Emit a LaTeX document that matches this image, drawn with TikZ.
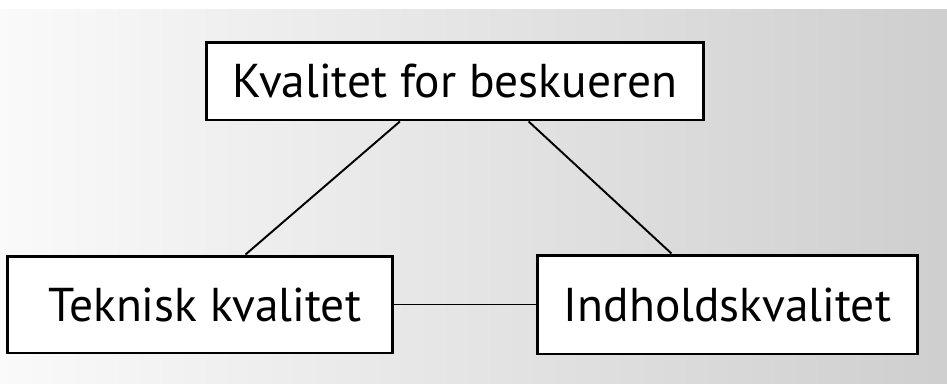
\documentclass[tikz,border=0pt]{standalone}
\usepackage{fontspec}
\setmainfont{PT Sans}
\usetikzlibrary{calc}

\begin{document}
\begin{tikzpicture}[x=0.02cm, y=-0.02cm,
  every node/.style = {
    draw = black,
    fill = white,
    line width = 1.7pt,
    inner sep = 0,
    font = \fontsize{27}{32}\selectfont,
  },
  link/.style = {line width = 1.1pt},
]
\useasboundingbox (0,0) rectangle (947,383);
\shade[left color=black!2, right color=black!19] (0,9) rectangle (947,383);

\node[minimum width=9.96cm, minimum height=1.56cm] (viewer) at (455,81) {Kvalitet for beskueren};
\node[minimum width=7.72cm, minimum height=1.94cm] (technical) at (200,304.5) {\hspace{0.2cm}Teknisk kvalitet};
\node[minimum width=7.62cm, minimum height=1.98cm] (content) at (727.5,304.5) {Indholdskvalitet};

\draw[link] ($(viewer.south west)!0.39!(viewer.south east)$) -- ($(technical.north west)!0.617!(technical.north east)$);
\draw[link] ($(viewer.south west)!0.647!(viewer.south east)$) -- ($(content.north west)!0.354!(content.north east)$);
\draw[link] (technical) -- (content);
\end{tikzpicture}
\end{document}
